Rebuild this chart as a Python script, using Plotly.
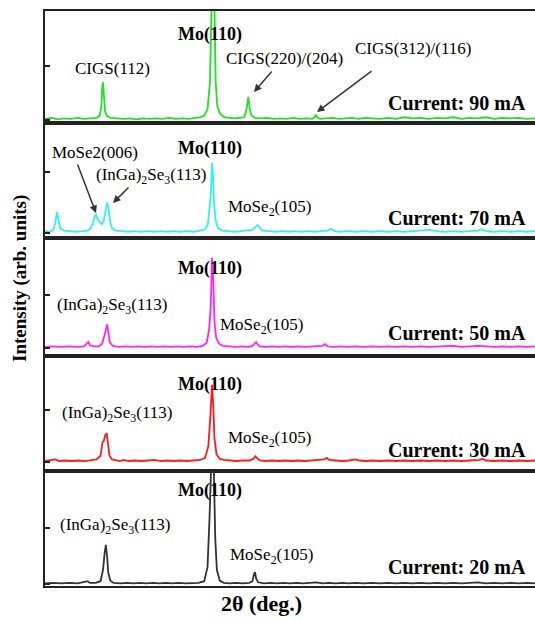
import plotly.graph_objects as go

# ---------------- data ----------------
currents = ["Current: 90 mA", "Current: 70 mA", "Current: 50 mA", "Current: 30 mA", "Current: 20 mA"]
colors = ["#22e022", "#33f0f0", "#ff22ff", "#ff1a1a", "#333333"]

x_90 = [20.0, 20.8, 21.6, 22.4, 23.2, 24.0, 24.8, 25.6, 26.3, 26.7, 26.9, 27.0, 27.1, 27.2, 27.35, 27.6, 28.0,
        28.8, 29.6, 30.4, 31.2, 32.0, 32.8, 33.6, 34.4, 35.2, 36.0, 36.8, 37.6, 38.4, 39.0, 39.5, 39.9, 40.2,
        40.4, 40.55, 40.7, 40.9, 41.1, 41.5, 42.0, 42.6, 43.2, 43.8, 44.4, 44.65, 44.8, 44.9, 45.05, 45.3,
        45.7, 46.4, 47.2, 48.0, 48.8, 49.6, 50.4, 51.2, 52.0, 52.7, 53.0, 53.15, 53.35, 53.7, 54.4, 55.2,
        56.0, 56.8, 57.6, 58.4, 59.2, 60.0, 61.0, 62.0, 63.0, 64.0, 65.0, 66.0, 67.0, 68.0, 69.0, 70.0, 71.0,
        72.0, 73.0, 74.0, 75.0, 76.0, 77.0, 78.0, 79.0, 80.0]
y_90 = [0.02, 0.04, 0.01, 0.03, 0.02, 0.04, 0.02, 0.03, 0.04, 0.08, 0.25, 0.60, 0.70, 0.48, 0.16, 0.07, 0.04,
        0.03, 0.02, 0.03, 0.01, 0.03, 0.02, 0.03, 0.02, 0.04, 0.02, 0.03, 0.02, 0.04, 0.05, 0.08, 0.20, 0.70,
        2.60, 3.20, 2.50, 0.70, 0.25, 0.10, 0.05, 0.04, 0.03, 0.04, 0.05, 0.18, 0.40, 0.43, 0.22, 0.08,
        0.04, 0.03, 0.04, 0.02, 0.03, 0.02, 0.04, 0.02, 0.03, 0.02, 0.05, 0.10, 0.04, 0.02, 0.03, 0.04,
        0.02, 0.03, 0.04, 0.02, 0.04, 0.03, 0.02, 0.04, 0.02, 0.05, 0.03, 0.04, 0.02, 0.04, 0.03, 0.05, 0.02,
        0.04, 0.03, 0.05, 0.02, 0.04, 0.03, 0.04, 0.02, 0.03]

x_70 = [20.0, 20.6, 21.0, 21.25, 21.45, 21.6, 21.85, 22.3, 23.0, 23.8, 24.6, 25.2, 25.6, 25.9, 26.1, 26.25,
        26.45, 26.7, 26.95, 27.2, 27.45, 27.6, 27.75, 27.95, 28.2, 28.6, 29.4, 30.2, 31.0, 31.8, 32.6, 33.4,
        34.2, 35.0, 35.8, 36.6, 37.4, 38.2, 39.0, 39.6, 39.95, 40.15, 40.3, 40.45, 40.55, 40.7, 40.9, 41.2,
        41.7, 42.4, 43.2, 44.0, 44.8, 45.4, 45.8, 46.05, 46.3, 46.6, 47.4, 48.2, 49.0, 49.8, 50.6, 51.4,
        52.2, 53.0, 53.8, 54.6, 55.0, 55.3, 56.0, 57.0, 58.0, 59.0, 60.0, 61.0, 62.0, 63.0, 64.0, 65.0,
        66.0, 67.0, 68.0, 69.0, 70.0, 71.0, 72.0, 73.0, 73.4, 74.0, 75.0, 76.0, 77.0, 78.0, 79.0, 80.0]
y_70 = [0.03, 0.02, 0.05, 0.15, 0.34, 0.22, 0.08, 0.04, 0.03, 0.02, 0.03, 0.04, 0.08, 0.18, 0.28, 0.30,
        0.22, 0.18, 0.14, 0.20, 0.38, 0.50, 0.44, 0.20, 0.08, 0.04, 0.03, 0.02, 0.03, 0.02, 0.03, 0.02,
        0.03, 0.02, 0.03, 0.02, 0.03, 0.02, 0.04, 0.06, 0.15, 0.40, 0.62, 1.15, 1.00, 0.50, 0.20, 0.08,
        0.04, 0.03, 0.02, 0.03, 0.04, 0.05, 0.10, 0.13, 0.09, 0.04, 0.03, 0.02, 0.03, 0.02, 0.03, 0.02,
        0.03, 0.02, 0.03, 0.04, 0.07, 0.04, 0.02, 0.03, 0.02, 0.03, 0.02, 0.03, 0.02, 0.03, 0.02, 0.03,
        0.03, 0.05, 0.03, 0.02, 0.03, 0.02, 0.03, 0.04, 0.06, 0.03, 0.02, 0.03, 0.02, 0.03, 0.02, 0.03]

x_50 = [20.0, 21.0, 22.0, 23.0, 24.0, 24.8, 25.1, 25.3, 25.5, 26.0, 26.6, 27.0, 27.3, 27.5, 27.6, 27.75, 27.95,
        28.3, 29.0, 29.8, 30.6, 31.4, 32.2, 33.0, 33.8, 34.6, 35.4, 36.2, 37.0, 37.8, 38.6, 39.3, 39.8, 40.1,
        40.3, 40.45, 40.6, 40.75, 40.95, 41.3, 41.8, 42.5, 43.3, 44.1, 44.9, 45.4, 45.7, 45.85, 46.0, 46.3,
        47.0, 47.8, 48.6, 49.4, 50.2, 51.0, 51.8, 52.6, 53.4, 54.0, 54.3, 54.6, 55.4, 56.2, 57.0, 58.0, 59.0,
        60.0, 61.0, 62.0, 63.0, 64.0, 65.0, 66.0, 67.0, 68.0, 69.0, 70.0, 71.0, 72.0, 73.0, 74.0, 75.0, 76.0,
        77.0, 78.0, 79.0, 80.0]
y_50 = [0.02, 0.03, 0.02, 0.03, 0.02, 0.03, 0.08, 0.11, 0.05, 0.03, 0.03, 0.08, 0.25, 0.42, 0.44, 0.30, 0.10,
        0.04, 0.02, 0.03, 0.02, 0.03, 0.02, 0.03, 0.02, 0.03, 0.02, 0.03, 0.02, 0.03, 0.02, 0.04, 0.10, 0.35,
        0.78, 1.69, 1.30, 0.50, 0.20, 0.08, 0.04, 0.03, 0.02, 0.03, 0.02, 0.04, 0.09, 0.11, 0.07, 0.03,
        0.02, 0.03, 0.02, 0.03, 0.02, 0.03, 0.02, 0.03, 0.03, 0.04, 0.07, 0.03, 0.02, 0.03, 0.02, 0.03, 0.02,
        0.03, 0.02, 0.03, 0.02, 0.03, 0.02, 0.03, 0.02, 0.03, 0.03, 0.04, 0.02, 0.03, 0.04, 0.03, 0.02, 0.03,
        0.02, 0.03, 0.02, 0.03]

x_30 = [20.0, 20.8, 21.3, 21.7, 22.5, 23.3, 24.1, 24.9, 25.6, 26.3, 26.8, 27.05, 27.2, 27.4, 27.55, 27.7, 27.9,
        28.2, 28.6, 29.2, 29.6, 30.2, 31.0, 31.8, 32.6, 33.4, 34.2, 35.0, 35.8, 36.6, 37.4, 38.2, 39.0, 39.6,
        40.0, 40.25, 40.45, 40.6, 40.75, 41.0, 41.4, 41.9, 42.6, 43.4, 44.2, 45.0, 45.5, 45.75, 45.95, 46.3,
        47.0, 47.8, 48.6, 49.4, 50.2, 51.0, 51.8, 52.6, 53.4, 54.2, 54.5, 54.8, 55.6, 56.4, 57.2, 58.0, 58.5,
        59.3, 60.1, 61.0, 62.0, 63.0, 64.0, 65.0, 66.0, 67.0, 68.0, 69.0, 70.0, 71.0, 72.0, 73.2, 73.6, 74.0,
        75.0, 76.0, 77.0, 78.0, 79.0, 80.0]
y_30 = [0.02, 0.03, 0.05, 0.02, 0.03, 0.02, 0.03, 0.02, 0.03, 0.05, 0.12, 0.38, 0.40, 0.52, 0.55, 0.35, 0.12,
        0.05, 0.04, 0.02, 0.04, 0.02, 0.03, 0.02, 0.03, 0.04, 0.02, 0.03, 0.02, 0.03, 0.02, 0.03, 0.04, 0.08,
        0.30, 0.87, 1.47, 1.10, 0.45, 0.15, 0.06, 0.04, 0.03, 0.02, 0.03, 0.03, 0.06, 0.11, 0.08, 0.03,
        0.02, 0.03, 0.02, 0.03, 0.02, 0.03, 0.02, 0.03, 0.03, 0.05, 0.08, 0.04, 0.03, 0.02, 0.03, 0.05, 0.03,
        0.02, 0.03, 0.02, 0.03, 0.02, 0.03, 0.02, 0.03, 0.02, 0.03, 0.02, 0.03, 0.02, 0.03, 0.04, 0.06, 0.03,
        0.02, 0.03, 0.02, 0.03, 0.02, 0.03]

x_20 = [20.0, 21.0, 22.0, 23.0, 24.0, 24.8, 25.2, 25.5, 26.2, 26.8, 27.1, 27.3, 27.45, 27.6, 27.75, 28.0, 28.4,
        29.2, 30.0, 30.8, 31.6, 32.4, 33.2, 34.0, 34.8, 35.6, 36.4, 37.2, 38.0, 38.8, 39.5, 39.9, 40.15, 40.35,
        40.5, 40.65, 40.85, 41.05, 41.4, 41.9, 42.6, 43.4, 44.2, 45.0, 45.4, 45.6, 45.72, 45.85, 46.1, 46.8,
        47.6, 48.4, 49.2, 50.0, 50.8, 51.6, 52.4, 53.2, 54.0, 54.8, 55.6, 56.4, 57.2, 58.0, 59.0, 60.0, 61.0,
        62.0, 63.0, 64.0, 65.0, 66.0, 67.0, 68.0, 69.0, 70.0, 71.0, 72.0, 73.0, 74.0, 75.0, 76.0, 77.0, 78.0,
        79.0, 80.0]
y_20 = [0.01, 0.02, 0.01, 0.02, 0.01, 0.03, 0.05, 0.02, 0.02, 0.05, 0.25, 0.55, 0.70, 0.50, 0.20, 0.06, 0.02,
        0.01, 0.02, 0.01, 0.02, 0.01, 0.02, 0.01, 0.02, 0.01, 0.02, 0.01, 0.02, 0.02, 0.05, 0.30, 1.20, 2.60,
        2.80, 2.20, 0.80, 0.25, 0.06, 0.02, 0.01, 0.02, 0.01, 0.02, 0.05, 0.18, 0.21, 0.10, 0.03, 0.01,
        0.02, 0.01, 0.02, 0.01, 0.02, 0.01, 0.02, 0.03, 0.01, 0.02, 0.01, 0.02, 0.01, 0.02, 0.01, 0.02, 0.01,
        0.02, 0.01, 0.02, 0.01, 0.02, 0.01, 0.02, 0.01, 0.02, 0.01, 0.02, 0.03, 0.01, 0.02, 0.01, 0.02, 0.01,
        0.02, 0.01]

series_x = [x_90, x_70, x_50, x_30, x_20]
series_y = [y_90, y_70, y_50, y_30, y_20]

# ---------------- layout helpers ----------------
W, H = 535, 621
LEFT, BOTTOM, TOP = 45, 586, 11
PW, PH = W - LEFT, BOTTOM - TOP
panel_edges = [11, 123, 238, 356, 471, 586]
y_ranges = [[-0.056, 2.02], [-0.082, 1.80], [-0.15, 2.06], [-0.17, 2.02], [-0.036, 2.02]]

def px(xp):
    return (xp - LEFT) / PW

def py(yp):
    return (BOTTOM - yp) / PH

FONT = "Liberation Serif"
AX = "#222222"

fig = go.Figure()
layout = dict(
    width=W, height=H,
    margin=dict(l=LEFT, r=0, t=TOP, b=H - BOTTOM, pad=0),
    paper_bgcolor="white", plot_bgcolor="white",
    showlegend=False,
    font=dict(family=FONT, color="black"),
)

for i in range(5):
    n = "" if i == 0 else str(i + 1)
    fig.add_trace(go.Scatter(x=series_x[i], y=series_y[i], mode="lines",
                             line=dict(color=colors[i], width=1.8),
                             xaxis="x" + n, yaxis="y" + n, hoverinfo="skip"))
    xa = dict(domain=[0, 1], anchor="y" + n, range=[20, 80], showline=True, mirror=True,
              linecolor=AX, linewidth=2, ticks="", showticklabels=False,
              showgrid=False, zeroline=False)
    if i > 0:
        xa["matches"] = "x"
    ya = dict(domain=[py(panel_edges[i + 1]), py(panel_edges[i])], anchor="x" + n,
              range=y_ranges[i], showline=True, mirror=False, linecolor=AX, linewidth=2,
              ticks="inside", ticklen=5, tickwidth=1.5, tickcolor=AX, tickvals=[0, 1],
              showticklabels=False, showgrid=False, zeroline=False)
    layout["xaxis" + n] = xa
    layout["yaxis" + n] = ya

fig.update_layout(**layout)

# ---------------- text labels ----------------
labels = [
    # (text, x_px, y_px, size, anchor)
    ("CIGS(112)", 112, 68, 17, "center"),
    ("<b>Mo(110)</b>", 210, 34, 18, "center"),
    ("CIGS(220)/(204)", 284, 58, 17, "center"),
    ("CIGS(312)/(116)", 413, 48, 17, "center"),
    ("<b>Mo(110)</b>", 210, 148, 18, "center"),
    ("MoSe2(006)", 95, 152, 17, "center"),
    ("(InGa)<sub>2</sub>Se<sub>3</sub>(113)", 151, 176, 17, "center"),
    ("MoSe<sub>2</sub>(105)", 269, 208, 17, "center"),
    ("<b>Mo(110)</b>", 210, 268, 18, "center"),
    ("(InGa)<sub>2</sub>Se<sub>3</sub>(113)", 112, 306, 17, "center"),
    ("MoSe<sub>2</sub>(105)", 261, 326, 17, "center"),
    ("<b>Mo(110)</b>", 210, 384, 18, "center"),
    ("(InGa)<sub>2</sub>Se<sub>3</sub>(113)", 117, 414, 17, "center"),
    ("MoSe<sub>2</sub>(105)", 269, 439, 17, "center"),
    ("<b>Mo(110)</b>", 210, 490, 18, "center"),
    ("(InGa)<sub>2</sub>Se<sub>3</sub>(113)", 115, 526, 17, "center"),
    ("MoSe<sub>2</sub>(105)", 271, 556, 17, "center"),
]
current_y = [103, 218, 333, 450, 567]

annotations = []
for text, xp, yp, size, anc in labels:
    annotations.append(dict(text=text, x=px(xp), y=py(yp), xref="paper", yref="paper",
                            xanchor=anc, yanchor="middle", showarrow=False,
                            font=dict(family=FONT, size=size, color="black")))
for text, yp in zip(currents, current_y):
    annotations.append(dict(text="<b>" + text + "</b>", x=px(528), y=py(yp), xref="paper", yref="paper",
                            xanchor="right", yanchor="middle", showarrow=False,
                            font=dict(family=FONT, size=20, color="black")))

arrows = [  # (tail_x, tail_y, head_x, head_y)
    (273, 70, 254, 92),
    (373, 70, 317, 112),
    (77, 163, 96, 213),
    (130, 186, 113, 203),
]
for tx, ty, hx, hy in arrows:
    annotations.append(dict(text="", x=px(hx), y=py(hy), xref="paper", yref="paper",
                            ax=tx - hx, ay=ty - hy, showarrow=True, arrowhead=2, arrowsize=1,
                            arrowwidth=1.5, arrowcolor="#333333"))

annotations.append(dict(text="<b>2θ (deg.)</b>", x=px(261), y=py(603), xref="paper", yref="paper",
                        xanchor="center", yanchor="middle", showarrow=False,
                        font=dict(family=FONT, size=22, color="black")))
annotations.append(dict(text="<b>Intensity (arb. units)</b>", x=px(20), y=py(279), xref="paper",
                        yref="paper", xanchor="center", yanchor="middle", textangle=-90,
                        showarrow=False, font=dict(family=FONT, size=19, color="black")))

fig.update_layout(annotations=annotations)
fig.write_html("out.html")
